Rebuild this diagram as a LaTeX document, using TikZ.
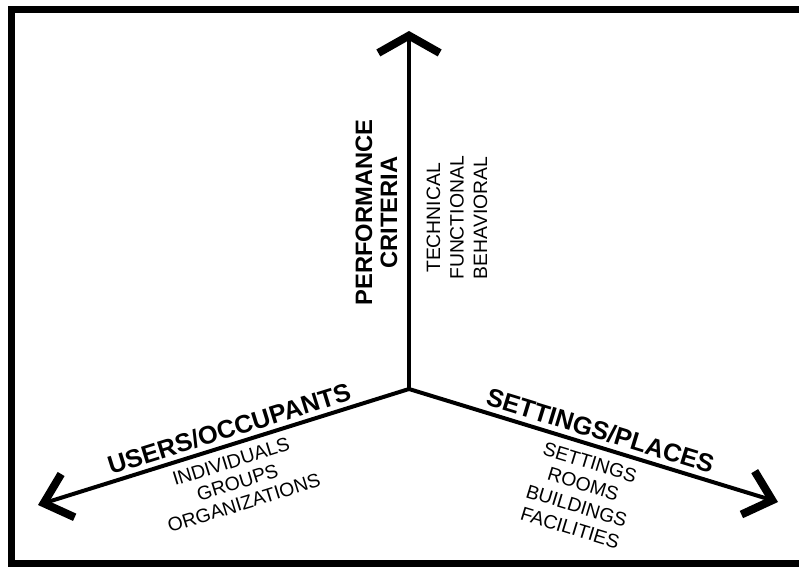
\documentclass[tikz,border=0pt]{standalone}
\usepackage{fontspec}
\setmainfont{Liberation Sans}
\usetikzlibrary{arrows.meta}

\begin{document}
\begin{tikzpicture}[
  x=0.75pt, y=-0.75pt,
  frame/.style={line width=5.25pt},
  axis/.style={line width=3pt},
  uptip/.style={-{Straight Barb[length=13pt, width=46pt, line width=6pt]}},
  slanttip/.style={-{Straight Barb[length=19pt, width=34pt, line width=6pt]}},
  title/.style={font=\fontsize{17.8}{18.75}\selectfont\bfseries, align=center, inner sep=0pt},
  bigtitle/.style={font=\fontsize{19}{20}\selectfont\bfseries, inner sep=0pt, text depth=0pt},
  items/.style={font=\fontsize{14.5}{17.6}\selectfont, align=center, inner sep=0pt}
]
\useasboundingbox (0,0) rectangle (799,567);
\draw[frame] (808,9.5) -- (11.5,9.5) -- (11.5,563.5) -- (808,563.5);

\coordinate (origin) at (409,389);
\coordinate (perf) at (409,31);
\coordinate (users) at (38,505);
\coordinate (places) at (778,502);

\draw[axis, uptip] (origin) -- (perf);
\draw[axis, slanttip] (origin) -- (users);
\draw[axis, slanttip] (origin) -- (places);

\node[title, rotate=90] (perftitle) at (376.5,212.5) {PERFORMANCE\\CRITERIA};
\node[items, rotate=90] (perfitems) at (457,218) {TECHNICAL\\FUNCTIONAL\\BEHAVIORAL};

\node[bigtitle, rotate=17.3] (userstitle) at (229,428.5) {USERS/OCCUPANTS};
\node[items, rotate=17.3, font=\fontsize{14.5}{16.3}\selectfont] (usersitems) at (237.5,482.3) {INDIVIDUALS\\GROUPS\\ORGANIZATIONS};

\node[bigtitle, rotate=-17] (placestitle) at (600.5,430.5) {SETTINGS/PLACES};
\node[items, rotate=-17, font=\fontsize{14.5}{17.1}\selectfont] (placesitems) at (580,495) {SETTINGS\\ROOMS\\BUILDINGS\\FACILITIES};
\end{tikzpicture}
\end{document}
